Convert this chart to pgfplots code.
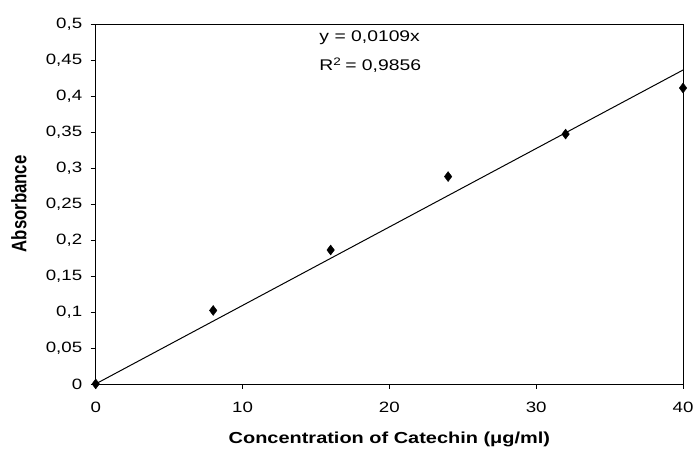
\documentclass[border=0pt]{standalone}
\usepackage{fontspec}
\setmainfont{Liberation Sans}[FakeStretch=1.25]
\newfontfamily\yfont{Liberation Sans}[FakeStretch=0.8]
\usepackage{pgfplots}
\pgfplotsset{compat=1.18}

% calibration data
\pgfplotstableread{
conc  abs
0     0
8     0.102
16    0.186
24    0.288
32    0.347
40    0.411
}\catechin

\begin{document}
\begin{tikzpicture}
\begin{axis}[
  name=ax,
  scale only axis,
  width=589pt, height=361pt,
  xmin=0, xmax=40, ymin=0, ymax=0.5,
  xtick={0,10,20,30,40},
  ytick={0,0.05,0.1,0.15,0.2,0.25,0.3,0.35,0.4,0.45,0.5},
  tick pos=left,
  tick align=outside,
  major tick length=5pt,
  tick style={black, line width=0.6pt},
  axis line style={line width=0.8pt},
  ticklabel style={font=\fontsize{15}{17}\selectfont},
  xticklabel style={yshift=-10pt},
  yticklabel style={xshift=-5pt},
  /pgf/number format/use comma,
  /pgf/number format/assume math mode=true,
  /pgf/number format/fixed,
  /pgf/number format/precision=2,
  xlabel={Concentration of Catechin (μg/ml)},
  ylabel={Absorbance},
  xlabel style={font=\fontsize{16}{18}\selectfont\bfseries,
    at={(axis description cs:0.5,0)}, anchor=center, yshift=-56pt},
  ylabel style={font=\yfont\fontsize{21}{23}\selectfont\bfseries,
    at={(axis description cs:-0.131,0.5)}, anchor=center},
]
\addplot[black, line width=1pt] coordinates {(0,0) (40,0.436)};
\addplot[only marks, mark=diamond*, mark size=5pt, black] table[x=conc, y=abs] {\catechin};
\node[anchor=west, align=left, font=\fontsize{15.5}{29}\selectfont]
  at (rel axis cs:0.375,0.923) {y = 0,0109x\\R$^{\mathrm{2}}$ = 0,9856};
\end{axis}
\pgfresetboundingbox
\path[use as bounding box] (ax.south west) ++(-96pt,-71pt)
  rectangle ([shift={(12pt,24pt)}]ax.north east);
\end{tikzpicture}
\end{document}
